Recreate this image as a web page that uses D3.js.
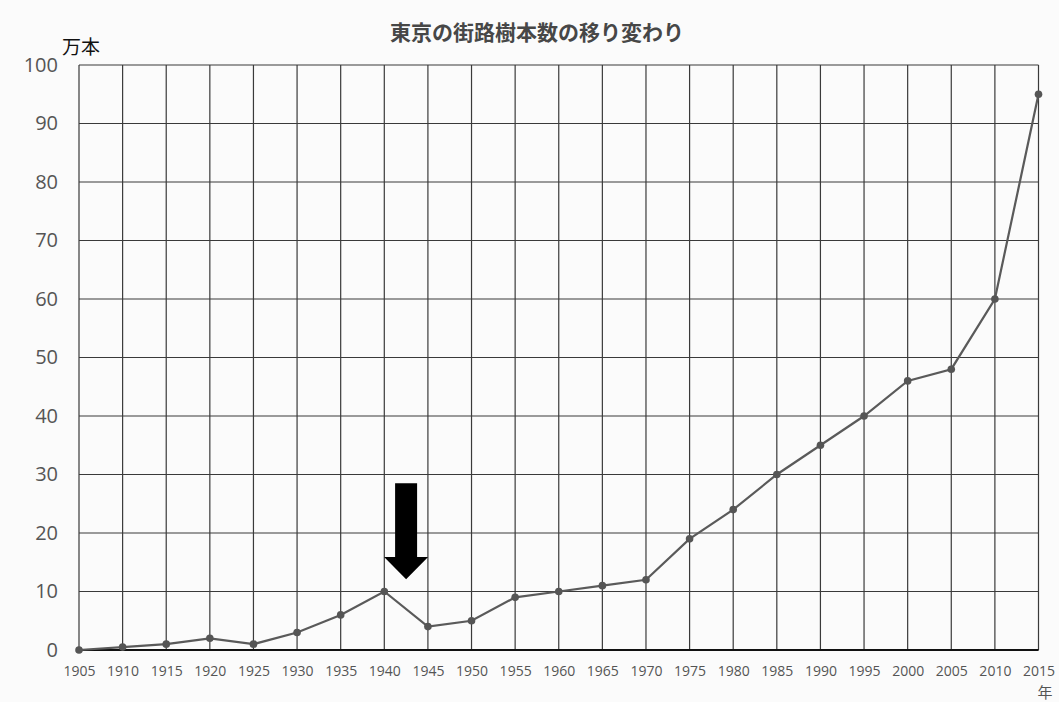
<!DOCTYPE html>
<html><head><meta charset="utf-8">
<script src="https://cdn.jsdelivr.net/npm/d3@7"></script>
<style>
html,body{margin:0;padding:0;background:#fbfbfb;}
svg{display:block;}
</style></head>
<body>
<svg id="chart" width="1059" height="702"></svg>
<script>
const years = [1905,1910,1915,1920,1925,1930,1935,1940,1945,1950,1955,1960,1965,1970,1975,1980,1985,1990,1995,2000,2005,2010,2015];
const values = [0,0.5,1,2,1,3,6,10,4,5,9,10,11,12,19,24,30,35,40,46,48,60,95];
const yTicks = [0,10,20,30,40,50,60,70,80,90,100];
const title = "東京の街路樹本数の移り変わり";
const yUnit = "万本";
const xUnit = "年";
// arrow annotation (data coords): center year, top, head base, tip
const arrowYear = [1942.5];
const arrowVals = [28.5, 15.9, 12.1];

const svg = d3.select("#chart");
const m = {left:79, right:1038.5, top:65, bottom:650};
const x = d3.scaleLinear().domain([1905,2015]).range([m.left, m.right]);
const y = d3.scaleLinear().domain([0,100]).range([m.bottom, m.top]);

svg.append("rect").attr("width",1059).attr("height",702).attr("fill","#fbfbfb");

// grid
const g = svg.append("g");
g.selectAll(".vg").data(years).join("line")
  .attr("x1",d=>x(d)).attr("x2",d=>x(d)).attr("y1",y(0)).attr("y2",y(100))
  .attr("stroke","#3a3a3a").attr("stroke-width",1.2);
g.selectAll(".hg").data(yTicks).join("line")
  .attr("x1",x(1905)).attr("x2",x(2015)).attr("y1",d=>y(d)).attr("y2",d=>y(d))
  .attr("stroke","#3a3a3a").attr("stroke-width",1.2);
g.append("line").attr("x1",x(1905)).attr("x2",x(2015)).attr("y1",y(0)).attr("y2",y(0))
  .attr("stroke","#111").attr("stroke-width",2);

// y axis labels
const ya = d3.axisLeft(y).tickValues(yTicks).tickSize(0).tickPadding(21);
const yg = svg.append("g").attr("transform",`translate(${m.left},0)`).call(ya);
yg.select(".domain").remove();
yg.selectAll("text").attr("font-family","'Open Sans', 'Noto Sans', sans-serif")
  .attr("font-size",20).attr("fill","#555");

// x axis labels
const xa = d3.axisBottom(x).tickValues(years).tickFormat(d3.format("d")).tickSize(0).tickPadding(16);
const xg = svg.append("g").attr("transform",`translate(0,${m.bottom})`).call(xa);
xg.select(".domain").remove();
xg.selectAll("text").attr("font-family","'Open Sans', 'Noto Sans', sans-serif")
  .attr("font-size",14).attr("fill","#555");

// line
const line = d3.line().x((d,i)=>x(years[i])).y(d=>y(d));
svg.append("path").datum(values).attr("d",line)
  .attr("fill","none").attr("stroke","#5a5a5a").attr("stroke-width",2.2);
svg.selectAll(".pt").data(values).join("circle")
  .attr("cx",(d,i)=>x(years[i])).attr("cy",d=>y(d)).attr("r",3.8).attr("fill","#555");

// arrow
const ax = x(arrowYear[0]);
const shaftW = 11, headW = 22;
const pts = [
  [ax-shaftW, y(arrowVals[0])],[ax+shaftW, y(arrowVals[0])],
  [ax+shaftW, y(arrowVals[1])],[ax+headW, y(arrowVals[1])],
  [ax, y(arrowVals[2])],
  [ax-headW, y(arrowVals[1])],[ax-shaftW, y(arrowVals[1])]
];
svg.append("polygon").attr("points",pts.map(p=>p.join(",")).join(" ")).attr("fill","#000");

// titles
svg.append("text").attr("x",537).attr("y",40).attr("text-anchor","middle")
  .attr("font-family","'Noto Sans CJK JP', sans-serif").attr("font-size",21).attr("font-weight","bold")
  .attr("fill","#474747").text(title);
svg.append("text").attr("x",62).attr("y",54)
  .attr("font-family","'Noto Sans CJK JP', sans-serif").attr("font-size",19)
  .attr("fill","#111").text(yUnit);
svg.append("text").attr("x",1045).attr("y",698).attr("text-anchor","middle")
  .attr("font-family","'Noto Sans CJK JP', sans-serif").attr("font-size",15)
  .attr("fill","#555").text(xUnit);
</script>
</body></html>
